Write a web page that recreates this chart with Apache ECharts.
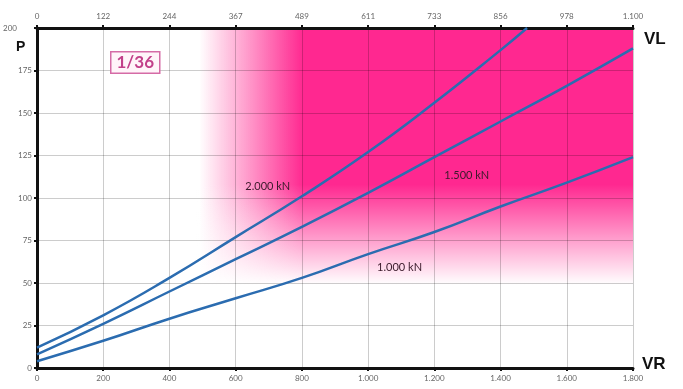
<!DOCTYPE html>
<html>
<head>
<meta charset="utf-8">
<script src="https://cdn.jsdelivr.net/npm/echarts@6/dist/echarts.min.js"></script>
<style>
html, body { margin: 0; padding: 0; background: #fff; }
#chart { width: 683px; height: 389px; }
</style>
</head>
<body>
<div id="chart"></div>
<script>
// data
const topLabels = ['0', '122', '244', '367', '489', '611', '733', '856', '978', '1.100'];
const lineX = [0, 200, 400, 600, 800, 1000, 1200, 1400, 1600, 1800];
const line2000X = [0, 200, 400, 600, 800, 1000, 1200, 1400, 1480];
const line2000Y = [12, 31, 53, 77, 101, 127, 156, 187, 200];
const line1500Y = [8, 26, 45, 64, 83, 103, 124, 145, 166, 188];
const line1000Y = [4, 16, 29, 41, 53, 67, 80, 95, 109, 124];
const lineNames = ['2.000 kN', '1.500 kN', '1.000 kN'];
const labelPos = [[697, 107], [1298, 113], [1095, 59]];

const pairs = (xs, ys) => ys.map((y, i) => [xs[i], y]);
const fmtThousand = v => v >= 1000 ? Math.floor(v / 1000) + '.' + String(v % 1000).padStart(3, '0') : String(v);

const chart = echarts.init(document.getElementById('chart'));

const tickLabel = { fontFamily: 'Lato', fontSize: 8, color: '#666' };
const blackAxis = { show: true, lineStyle: { color: '#111', width: 3 } };
const blackTick = { show: true, length: 3, lineStyle: { color: '#111', width: 2 } };
const gridLine = { show: true, lineStyle: { color: 'rgba(0,0,0,0.2)', width: 1 } };

function lineSeries(name, data, label) {
    return {
        name: name,
        type: 'line',
        z: 3,
        data: data,
        smooth: true,
        showSymbol: false,
        lineStyle: { color: '#2b6cb0', width: 2.5 },
        markPoint: {
            symbol: 'circle',
            symbolSize: 0,
            label: {
                show: true,
                position: 'inside',
                formatter: name,
                fontFamily: 'Lato',
                fontSize: 11,
                color: '#3a1a2a'
            },
            data: [{ coord: label }]
        }
    };
}

const option = {
    animation: false,
    grid: { left: 37, right: 50, top: 28, bottom: 21 },
    xAxis: [
        {
            type: 'value',
            min: 0,
            max: 1800,
            interval: 200,
            z: 2,
            axisLine: blackAxis,
            axisTick: blackTick,
            axisLabel: Object.assign({ margin: 6, formatter: fmtThousand }, tickLabel),
            splitLine: gridLine
        },
        {
            type: 'category',
            position: 'top',
            boundaryGap: false,
            data: topLabels,
            z: 2,
            axisLine: blackAxis,
            axisTick: { show: true, alignWithLabel: true, length: 3, lineStyle: { color: '#111', width: 2 } },
            axisLabel: Object.assign({ margin: 8, interval: 0 }, tickLabel),
            splitLine: { show: false }
        }
    ],
    yAxis: {
        type: 'value',
        min: 0,
        max: 200,
        interval: 25,
        z: 2,
        axisLine: blackAxis,
        axisTick: blackTick,
        axisLabel: Object.assign({
            margin: 5,
            formatter: v => v === 200 ? '{a|200}' : String(v),
            rich: { a: { fontFamily: 'Lato', fontSize: 8, color: '#666', padding: [0, 15, 0, 0] } }
        }, tickLabel),
        splitLine: gridLine
    },
    series: [
        {
            // pink shaded zone behind the grid lines
            type: 'line',
            z: 1,
            data: [],
            markArea: {
                silent: true,
                data: [
                    [
                        {
                            coord: [490, 200],
                            itemStyle: {
                                color: new echarts.graphic.LinearGradient(0, 0, 1, 0, [
                                    { offset: 0, color: 'rgba(255,40,144,0)' },
                                    { offset: 0.24, color: 'rgba(255,40,144,1)' },
                                    { offset: 1, color: 'rgba(255,40,144,1)' }
                                ])
                            }
                        },
                        { coord: [1800, 48] }
                    ],
                    [
                        {
                            coord: [480, 108],
                            itemStyle: {
                                color: new echarts.graphic.LinearGradient(0, 0, 0, 1, [
                                    { offset: 0, color: 'rgba(255,255,255,0)' },
                                    { offset: 0.95, color: 'rgba(255,255,255,1)' },
                                    { offset: 1, color: 'rgba(255,255,255,1)' }
                                ])
                            }
                        },
                        { coord: [1800, 46] }
                    ]
                ]
            }
        },
        lineSeries(lineNames[0], pairs(line2000X, line2000Y), labelPos[0]),
        lineSeries(lineNames[1], pairs(lineX, line1500Y), labelPos[1]),
        lineSeries(lineNames[2], pairs(lineX, line1000Y), labelPos[2])
    ],
    graphic: [
        {
            type: 'text',
            left: 110,
            top: 51,
            z: 10,
            style: {
                text: '1/36',
                fill: '#c2408a',
                font: 'bold 17px Lato',
                backgroundColor: '#fff4f9',
                borderColor: '#d56ba6',
                borderWidth: 1.5,
                padding: [2, 5, 1, 5]
            }
        },
        { type: 'text', left: 16, top: 40, style: { text: 'P', fill: '#111', font: 'bold 14px "Liberation Sans"' } },
        { type: 'text', left: 644, top: 31, style: { text: 'VL', fill: '#111', font: 'bold 17px "Liberation Sans"' } },
        { type: 'text', left: 642, top: 356, style: { text: 'VR', fill: '#111', font: 'bold 17px "Liberation Sans"' } }
    ]
};

chart.setOption(option);
window.addEventListener('resize', () => {
    chart.resize();
});
</script>
</body>
</html>
